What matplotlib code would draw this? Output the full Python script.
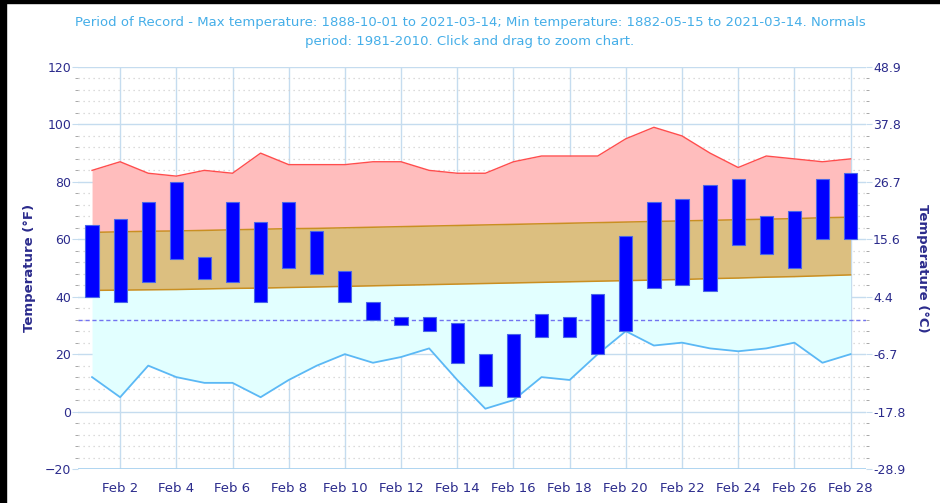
import numpy as np
import matplotlib
matplotlib.use("Agg")
import matplotlib.pyplot as plt
from matplotlib.ticker import MultipleLocator

days = np.arange(1, 29)

record_high = [84, 87, 83, 82, 84, 83, 90, 86, 86, 86, 87, 87, 84, 83,
               83, 87, 89, 89, 89, 95, 99, 96, 90, 85, 89, 88, 87, 88]
record_low = [12, 5, 16, 12, 10, 10, 5, 11, 16, 20, 17, 19, 22, 11,
              1, 4, 12, 11, 20, 28, 23, 24, 22, 21, 22, 24, 17, 20]
normal_high = [62.4, 62.6, 62.8, 62.9, 63.1, 63.3, 63.5, 63.7, 63.8, 64.0,
               64.2, 64.4, 64.6, 64.8, 65.0, 65.2, 65.4, 65.6, 65.8, 66.0,
               66.2, 66.4, 66.6, 66.8, 67.0, 67.2, 67.5, 67.7]
normal_low = [42.2, 42.3, 42.4, 42.5, 42.7, 42.9, 43.0, 43.2, 43.4, 43.6,
              43.8, 44.0, 44.2, 44.4, 44.6, 44.8, 45.0, 45.2, 45.4, 45.6,
              45.8, 46.0, 46.3, 46.5, 46.8, 47.0, 47.3, 47.6]
obs_high = [65, 67, 73, 80, 54, 73, 66, 73, 63, 49, 38, 33, 33, 31,
            20, 27, 34, 33, 41, 61, 73, 74, 79, 81, 68, 70, 81, 83]
obs_low = [40, 38, 45, 53, 46, 45, 38, 50, 48, 38, 32, 30, 28, 17,
           9, 5, 26, 26, 20, 28, 43, 44, 42, 58, 55, 50, 60, 60]

tick_days = list(range(2, 29, 2))
tick_labels = [f"Feb {d}" for d in tick_days]
f_ticks = [-20, 0, 20, 40, 60, 80, 100, 120]

title = ("Period of Record - Max temperature: 1888-10-01 to 2021-03-14; Min temperature: 1882-05-15 to 2021-03-14. Normals\n"
         "period: 1981-2010. Click and drag to zoom chart.")

navy = "#2b2b8c"
gridblue = "#c5dcef"

fig = plt.figure(figsize=(9.4, 5.03), dpi=100)
fig.patches.append(plt.Rectangle((0, 0), 6 / 940, 1, transform=fig.transFigure,
                                 color="black", zorder=10))
fig.patches.append(plt.Rectangle((0, 1 - 3 / 503), 1, 3 / 503, transform=fig.transFigure,
                                 color="black", zorder=10))

ax = fig.add_axes([78 / 940, 1 - 469 / 503, (866 - 78) / 940, (469 - 67) / 503])

ax.fill_between(days, normal_high, record_high, color="#ffbdbd", lw=0, zorder=1)
ax.plot(days, record_high, color="#ff4d4d", lw=1.0, zorder=3)
ax.fill_between(days, normal_low, normal_high, color="#dcbf80", lw=0, zorder=1)
ax.plot(days, normal_high, color="#c98f22", lw=1.1, zorder=3)
ax.plot(days, normal_low, color="#c98f22", lw=1.1, zorder=3)
ax.fill_between(days, record_low, normal_low, color="#e2ffff", lw=0, zorder=1)
ax.plot(days, record_low, color="#5bb8f5", lw=1.3, zorder=3)

ax.axhline(32, color="#7373f0", lw=1, ls=(0, (3, 2)), zorder=4)

heights = np.array(obs_high) - np.array(obs_low)
ax.bar(days, heights, bottom=obs_low, width=0.47, color="#0000ff",
       edgecolor="#4a66e8", linewidth=0.8, zorder=5)

ax.set_xlim(0.5, 28.55)
ax.set_ylim(-20, 120)
ax.set_xticks(tick_days)
ax.set_xticklabels(tick_labels)
ax.set_yticks(f_ticks)
ax.yaxis.set_minor_locator(MultipleLocator(4))

ax.grid(True, which="major", color=gridblue, lw=1, zorder=0)
ax.grid(True, which="minor", axis="y", color="#d0d0d0", lw=0.9, ls=(0, (1, 3)), zorder=0)
ax.set_axisbelow(True)
for s in ax.spines.values():
    s.set_visible(False)
ax.axhline(-20, color="#a9d2f0", lw=2, zorder=2)

ax.tick_params(axis="y", which="major", length=4, color=gridblue, labelcolor=navy,
               labelsize=9, pad=1)
ax.tick_params(axis="y", which="minor", length=2, color="#999999")
ax.tick_params(axis="x", length=0, labelcolor=navy, labelsize=9.5, pad=9)

ax2 = ax.twinx()
ax2.set_ylim(ax.get_ylim())
ax2.set_yticks(f_ticks)
ax2.set_yticklabels([f"{(f - 32) * 5 / 9:.1f}" for f in f_ticks])
ax2.yaxis.set_minor_locator(MultipleLocator(4))
for s in ax2.spines.values():
    s.set_visible(False)
ax2.tick_params(axis="y", which="major", length=4, color=gridblue, labelcolor=navy,
                labelsize=9, pad=1)
ax2.tick_params(axis="y", which="minor", length=2, color="#999999")

fig.text(30 / 940, 1 - 268 / 503, "Temperature (°F)", rotation=90, ha="center",
         va="center", color=navy, fontsize=9.5, fontweight="bold")
fig.text(923 / 940, 1 - 268 / 503, "Temperature (°C)", rotation=270, ha="center",
         va="center", color=navy, fontsize=9.5, fontweight="bold")

fig.text(0.5, 1 - 32 / 503, title, ha="center", va="center", color="#45aee8",
         fontsize=9.5, linespacing=1.6)

fig.savefig("out.png", dpi=100)
